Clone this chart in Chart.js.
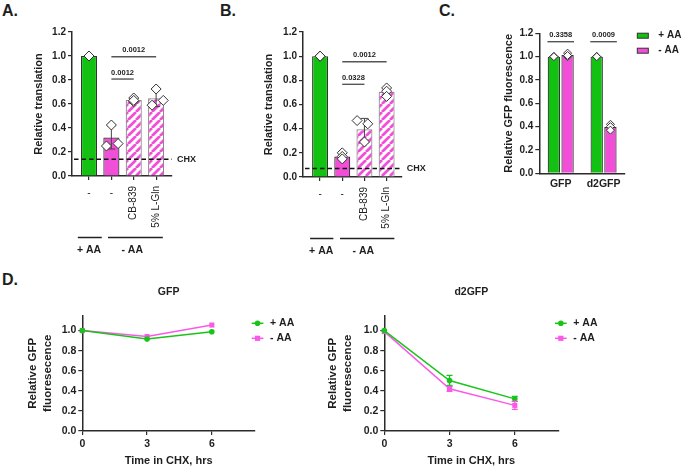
<!DOCTYPE html>
<html><head><meta charset="utf-8">
<script src="https://cdn.jsdelivr.net/npm/chart.js@4/dist/chart.umd.min.js"></script>
<style>
html,body{margin:0;padding:0;background:#fff;}
body{width:682px;height:469px;position:relative;overflow:hidden;font-family:"Liberation Sans",Arial,sans-serif;}
canvas{position:absolute;}
.pl{position:absolute;font-weight:bold;font-size:16px;line-height:16px;color:#1e1e1e;}
</style></head><body>
<div class="pl" style="left:2px;top:3px">A.</div>
<div class="pl" style="left:220px;top:3px">B.</div>
<div class="pl" style="left:439px;top:3px">C.</div>
<div class="pl" style="left:2px;top:272px">D.</div>
<canvas id="cA" width="230" height="270" style="left:0;top:0"></canvas>
<canvas id="cB" width="230" height="270" style="left:230px;top:0"></canvas>
<canvas id="cC" width="222" height="210" style="left:460px;top:0"></canvas>
<canvas id="cD1" width="300" height="184" style="left:0;top:285px"></canvas>
<canvas id="cD2" width="382" height="184" style="left:300px;top:285px"></canvas>
<script>
// ---------------- data ----------------
// Panel A
const catA = ['-', '-', 'CB-839', '5% L-Gln'];
const meanA = [1.0, 0.32, 0.633, 0.648];
const sdA = [0, 0.095, 0.02, 0.07];
const repA = [[1.0, 1.0, 1.0], [0.425, 0.25, 0.27], [0.65, 0.62, 0.63], [0.725, 0.59, 0.63]];
const chxA = 0.14;
const sigPairsA = [[1, 3], [1, 2]];
const sigPA = ['0.0012', '0.0012'];
const sigYA = [0.994, 0.808];
// Panel B
const catB = ['-', '-', 'CB-839', '5% L-Gln'];
const meanB = [1.0, 0.17, 0.395, 0.705];
const sdB = [0, 0.025, 0.09, 0.035];
const repB = [[1.0, 1.0, 1.0], [0.20, 0.17, 0.15], [0.467, 0.44, 0.29], [0.737, 0.71, 0.667]];
const chxB = 0.07;
const sigPairsB = [[1, 3], [1, 2]];
const sigPB = ['0.0012', '0.0328'];
const sigYB = [0.954, 0.767];
// shared A/B
const groupNames = ['+ AA', '- AA'];
const yTicksBar = [0, 0.2, 0.4, 0.6, 0.8, 1.0, 1.2];
// Panel C
const catC = ['GFP', 'd2GFP'];
const seriesC = ['+ AA', '- AA'];
const plusC = [1.0, 1.0];
const minusC = [1.013, 0.397];
const repPlusC = [[1.0, 1.0, 1.0], [1.0, 1.0, 1.0]];
const repMinusC = [[1.0, 1.03, 1.01], [0.42, 0.40, 0.37]];
const sigPC = ['0.3358', '0.0009'];
const sigYC = [1.128, 1.128];
// Panel D
const seriesD = ['+ AA', '- AA'];
const timeD = [0, 3, 6];
const gfpPlus = [1.0, 0.915, 0.988];
const gfpPlusErr = [0, 0, 0];
const gfpMinus = [1.0, 0.94, 1.055];
const gfpMinusErr = [0, 0, 0];
const d2Plus = [1.0, 0.503, 0.32];
const d2PlusErr = [0, 0.05, 0.025];
const d2Minus = [0.99, 0.42, 0.255];
const d2MinusErr = [0, 0.025, 0.04];
const xTicksD = [0, 3, 6];
const yTicksD = [0, 0.2, 0.4, 0.6, 0.8, 1.0];

// ---------------- style ----------------
const GREEN = '#12c112';
const MAGENTA = '#f24fd9';
const GREEN_L = '#19c419';
const PINK_L = '#fb58ea';
const AX = '#2b2b2b';
const TXT = '#1e1e1e';
const FONT = '"Liberation Sans", Arial, sans-serif';
Chart.defaults.font.family = FONT;
Chart.defaults.color = TXT;

function hatch(ctx) {
  const c = document.createElement('canvas'); c.width = 8; c.height = 8;
  const g = c.getContext('2d');
  g.fillStyle = '#fff'; g.fillRect(0, 0, 8, 8);
  g.strokeStyle = MAGENTA; g.lineWidth = 2.8;
  g.beginPath();
  [-8, 0, 8].forEach(k => { g.moveTo(k, 8); g.lineTo(k + 8, 0); });
  g.stroke();
  return ctx.createPattern(c, 'repeat');
}

function axisCommon() {
  return {
    grid: { drawOnChartArea: false, drawTicks: true, tickLength: 4, color: AX, lineWidth: 1.2, offset: false },
    border: { color: AX, width: 1.5 }
  };
}

// ---------------- A / B ----------------
function barPanel(o) {
  const cv = document.getElementById(o.id);
  const ctx = cv.getContext('2d');
  const W = cv.width, H = cv.height, g = o.g;
  const pat = hatch(ctx);
  const fills = o.means.map((_, i) => i === 0 ? GREEN : i === 1 ? MAGENTA : pat);
  const borders = o.means.map((_, i) => i < 2 ? '#333' : '#8a8a8a');
  const pts = [];
  o.reps.forEach((r, i) => r.forEach((v, j) => pts.push({ x: i + o.jitter[i][j], y: v })));
  const extras = {
    id: 'extras' + o.id,
    afterDatasetDraw(chart, args) {
      if (args.index !== 0) return;
      const xs = chart.scales.x, ys = chart.scales.y, c = chart.ctx;
      c.save(); c.strokeStyle = '#444'; c.lineWidth = 1;
      o.means.forEach((m, i) => {
        const e = o.sds[i]; if (!e) return;
        const x = xs.getPixelForValue(i), y1 = ys.getPixelForValue(m - e), y2 = ys.getPixelForValue(m + e);
        c.beginPath(); c.moveTo(x, y1); c.lineTo(x, y2);
        c.moveTo(x - 4, y1); c.lineTo(x + 4, y1); c.moveTo(x - 4, y2); c.lineTo(x + 4, y2); c.stroke();
      });
      c.restore();
    },
    afterDraw(chart) {
      const xs = chart.scales.x, ys = chart.scales.y, c = chart.ctx, ca = chart.chartArea;
      c.save();
      const yc = ys.getPixelForValue(o.chx);
      c.strokeStyle = '#111'; c.lineWidth = 1.6; c.setLineDash([4.5, 3]);
      c.beginPath(); c.moveTo(ca.left + 2, yc); c.lineTo(ca.right, yc); c.stroke(); c.setLineDash([]);
      c.fillStyle = TXT; c.font = 'bold 9px ' + FONT; c.textAlign = 'left'; c.textBaseline = 'middle';
      c.fillText('CHX', ca.right + 5, yc);
      c.strokeStyle = '#555'; c.lineWidth = 1.4; c.font = 'bold 7.5px ' + FONT; c.textAlign = 'center'; c.textBaseline = 'alphabetic';
      o.sigPairs.forEach((p, k) => {
        const x1 = xs.getPixelForValue(p[0]), x2 = xs.getPixelForValue(p[1]), y = ys.getPixelForValue(o.sigY[k]);
        c.beginPath(); c.moveTo(x1, y); c.lineTo(x2, y); c.stroke();
        c.fillText(o.sigP[k], (x1 + x2) / 2, y - 4.5);
      });
      c.font = '10px ' + FONT;
      o.cats.forEach((lab, i) => {
        const x = xs.getPixelForValue(i);
        if (lab === '-') { c.textAlign = 'center'; c.textBaseline = 'middle'; c.fillText(lab, x, ca.bottom + 17); }
        else { c.save(); c.translate(x, ca.bottom + 10); c.rotate(-Math.PI / 2); c.textAlign = 'right'; c.textBaseline = 'middle'; c.fillText(lab, 0, 0); c.restore(); }
      });
      c.strokeStyle = '#222'; c.lineWidth = 1.5; c.font = 'bold 10.5px ' + FONT; c.textAlign = 'center'; c.textBaseline = 'middle';
      groupNames.forEach((name, k) => {
        const sp = o.groupSpan[k];
        const x1 = xs.getPixelForValue(sp[0]), x2 = xs.getPixelForValue(sp[1]);
        const y = ca.bottom + 61.5;
        c.beginPath(); c.moveTo(x1, y); c.lineTo(x2, y); c.stroke();
        c.fillText(name, xs.getPixelForValue(o.groupLabelAt[k]), y + 12.5);
      });
      c.restore();
    }
  };
  const ax = axisCommon(), ay = axisCommon();
  new Chart(ctx, {
    type: 'bar',
    data: { datasets: [
      { type: 'bar', data: o.means.map((v, i) => ({ x: i, y: v })), backgroundColor: fills, borderColor: borders, borderWidth: 1.2, categoryPercentage: 1, barPercentage: 0.72, order: 2 },
      { type: 'scatter', data: pts, pointStyle: 'rectRot', pointRadius: 5, backgroundColor: '#fff', borderColor: '#333', borderWidth: 1, order: 1 }
    ] },
    options: {
      responsive: false, animation: false, events: [],
      layout: { padding: { left: g.pl, top: g.top, right: W - g.right, bottom: 0 } },
      plugins: { legend: { display: false }, tooltip: { enabled: false } },
      scales: {
        x: Object.assign(ax, { type: 'linear', offset: false, min: g.xmin, max: g.xmax,
          afterBuildTicks: s => { s.ticks = o.cats.map((_, i) => ({ value: i })); },
          ticks: { display: false },
          afterFit: s => { s.height = H - g.bottom; } }),
        y: Object.assign(ay, { type: 'linear', min: 0, max: 1.2,
          afterBuildTicks: s => { s.ticks = yTicksBar.map(v => ({ value: v })); },
          ticks: { callback: v => v.toFixed(1), font: { size: 10, weight: 'bold' }, color: TXT, padding: 2 },
          title: { display: true, text: 'Relative translation', font: { size: 11, weight: 'bold' }, color: TXT, padding: 0 },
          afterFit: s => { s.width = g.left - g.pl; } })
      }
    },
    plugins: [extras]
  });
}

barPanel({ id: 'cA', cats: catA, means: meanA, sds: sdA, reps: repA, chx: chxA, sigPairs: sigPairsA, sigP: sigPA, sigY: sigYA,
  jitter: [[0, 0, 0], [0, -0.22, 0.3], [0, 0, 0], [0, -0.18, 0.32]],
  groupSpan: [[-0.5, 0.57], [0.85, 3.3]], groupLabelAt: [0, 1.93],
  g: { pl: 32.4, left: 72, right: 172, top: 32, bottom: 176, xmin: -0.76, xmax: 3.71 } });
barPanel({ id: 'cB', cats: catB, means: meanB, sds: sdB, reps: repB, chx: chxB, sigPairs: sigPairsB, sigP: sigPB, sigY: sigYB,
  jitter: [[0, 0, 0], [0, 0, 0], [-0.33, 0.15, 0], [0, 0, 0]],
  groupSpan: [[-0.45, 0.6], [0.9, 3.35]], groupLabelAt: [0.05, 1.95],
  g: { pl: 32.4, left: 73, right: 171.7, top: 32, bottom: 177, xmin: -0.77, xmax: 3.68 } });

// ---------------- C ----------------
(function () {
  const cv = document.getElementById('cC'); const ctx = cv.getContext('2d');
  const W = cv.width, H = cv.height;
  const g = { pl: 42.4, left: 79.3, right: 165, top: 33.3, bottom: 173.3 };
  const catPct = 0.64, barPct = 0.9, off = catPct / 4;
  const pts = [];
  repPlusC.forEach((r, i) => r.forEach(v => pts.push({ x: i - off, y: v })));
  repMinusC.forEach((r, i) => r.forEach(v => pts.push({ x: i + off, y: v })));
  const extras = {
    id: 'extrasC',
    afterDraw(chart) {
      const xs = chart.scales.x, ys = chart.scales.y, c = chart.ctx;
      c.save();
      c.strokeStyle = '#555'; c.lineWidth = 1.4; c.font = 'bold 7.5px ' + FONT; c.fillStyle = TXT; c.textAlign = 'center'; c.textBaseline = 'alphabetic';
      sigPC.forEach((p, i) => {
        const x1 = xs.getPixelForValue(i - 0.31), x2 = xs.getPixelForValue(i + 0.31), y = ys.getPixelForValue(sigYC[i]);
        c.beginPath(); c.moveTo(x1, y); c.lineTo(x2, y); c.stroke();
        c.fillText(p, (x1 + x2) / 2, y - 4.5);
      });
      const cols = [GREEN, MAGENTA];
      c.font = 'bold 10px ' + FONT; c.textAlign = 'left'; c.textBaseline = 'middle';
      seriesC.forEach((s, k) => {
        const y = 35.7 + k * 15;
        c.fillStyle = cols[k]; c.fillRect(177.3, y - 2.5, 11, 5);
        c.strokeStyle = '#333'; c.lineWidth = 1; c.strokeRect(177.3, y - 2.5, 11, 5);
        c.fillStyle = TXT; c.fillText(s, 198.3, y);
      });
      c.restore();
    }
  };
  const ax = axisCommon(), ay = axisCommon();
  ax.grid.drawTicks = false;
  new Chart(ctx, {
    type: 'bar',
    data: { datasets: [
      { type: 'bar', label: seriesC[0], data: plusC.map((v, i) => ({ x: i, y: v })), backgroundColor: GREEN, borderColor: '#333', borderWidth: 1.2, categoryPercentage: catPct, barPercentage: barPct, order: 2 },
      { type: 'bar', label: seriesC[1], data: minusC.map((v, i) => ({ x: i, y: v })), backgroundColor: MAGENTA, borderColor: '#333', borderWidth: 1.2, categoryPercentage: catPct, barPercentage: barPct, order: 3 },
      { type: 'scatter', data: pts, pointStyle: 'rectRot', pointRadius: 4, backgroundColor: '#fff', borderColor: '#333', borderWidth: 1, order: 1 }
    ] },
    options: {
      responsive: false, animation: false, events: [],
      layout: { padding: { left: g.pl, top: g.top, right: W - g.right, bottom: 0 } },
      plugins: { legend: { display: false }, tooltip: { enabled: false } },
      scales: {
        x: Object.assign(ax, { type: 'linear', offset: false, min: -0.5, max: 1.5,
          afterBuildTicks: s => { s.ticks = catC.map((_, i) => ({ value: i })); },
          ticks: { callback: v => catC[v], font: { size: 10.5, weight: 'bold' }, color: TXT, padding: 5, maxRotation: 0 },
          afterFit: s => { s.height = H - g.bottom; } }),
        y: Object.assign(ay, { type: 'linear', min: 0, max: 1.2,
          afterBuildTicks: s => { s.ticks = yTicksBar.map(v => ({ value: v })); },
          ticks: { callback: v => v.toFixed(1), font: { size: 10, weight: 'bold' }, color: TXT, padding: 2 },
          title: { display: true, text: 'Relative GFP fluorescence', font: { size: 11, weight: 'bold' }, color: TXT, padding: 0 },
          afterFit: s => { s.width = g.left - g.pl; } })
      }
    },
    plugins: [extras]
  });
})();

// ---------------- D ----------------
function linePanel(o) {
  const cv = document.getElementById(o.id); const ctx = cv.getContext('2d');
  const W = cv.width, H = cv.height, g = o.g;
  const series = [
    { vals: o.plus, err: o.plusErr, col: GREEN_L, style: 'circle', r: 2.8 },
    { vals: o.minus, err: o.minusErr, col: PINK_L, style: 'rect', r: 3.6 }
  ];
  const extras = {
    id: 'extras' + o.id,
    afterDatasetsDraw(chart) {
      const xs = chart.scales.x, ys = chart.scales.y, c = chart.ctx, ca = chart.chartArea;
      c.save();
      series.forEach(s => {
        c.strokeStyle = s.col; c.lineWidth = 1.3;
        timeD.forEach((t, i) => {
          const e = s.err[i]; if (!e) return;
          const x = xs.getPixelForValue(t), y1 = ys.getPixelForValue(s.vals[i] - e), y2 = ys.getPixelForValue(s.vals[i] + e);
          c.beginPath(); c.moveTo(x, y1); c.lineTo(x, y2);
          c.moveTo(x - 3, y1); c.lineTo(x + 3, y1); c.moveTo(x - 3, y2); c.lineTo(x + 3, y2); c.stroke();
        });
      });
      c.font = 'bold 10.5px ' + FONT; c.textAlign = 'left'; c.textBaseline = 'middle';
      seriesD.forEach((name, k) => {
        const s = series[k], y = 38.3 + k * 15, x0 = ca.right - 3.3, x1 = ca.right + 8.4;
        c.strokeStyle = s.col; c.lineWidth = 1.5;
        c.beginPath(); c.moveTo(x0, y); c.lineTo(x1, y); c.stroke();
        c.fillStyle = s.col;
        const xm = (x0 + x1) / 2;
        if (s.style === 'circle') { c.beginPath(); c.arc(xm, y, 2.8, 0, Math.PI * 2); c.fill(); }
        else { c.fillRect(xm - 2.6, y - 2.6, 5.2, 5.2); }
        c.fillStyle = TXT; c.fillText(name, ca.right + 15, y);
      });
      c.restore();
    }
  };
  const ax = axisCommon(), ay = axisCommon();
  new Chart(ctx, {
    type: 'line',
    data: { datasets: series.map((s, k) => ({
      label: seriesD[k], data: timeD.map((t, i) => ({ x: t, y: s.vals[i] })),
      borderColor: s.col, backgroundColor: s.col, borderWidth: 1.5, pointStyle: s.style, pointRadius: s.r,
      pointBorderWidth: 0, tension: 0, fill: false, clip: false
    })) },
    options: {
      responsive: false, animation: false, events: [],
      layout: { padding: { left: g.pl, top: 0, right: W - g.right, bottom: 1 } },
      plugins: {
        legend: { display: false }, tooltip: { enabled: false },
        title: { display: true, text: o.title, fullSize: false, font: { size: 10.5, weight: 'bold' }, color: TXT, padding: { top: 1, bottom: g.top - 13.6 } }
      },
      scales: {
        x: Object.assign(ax, { type: 'linear', min: 0, max: 8,
          afterBuildTicks: s => { s.ticks = xTicksD.map(v => ({ value: v })); },
          ticks: { font: { size: 10.5, weight: 'bold' }, color: TXT, padding: 3, maxRotation: 0 },
          title: { display: true, text: 'Time in CHX, hrs', font: { size: 11, weight: 'bold' }, color: TXT, padding: 0 },
          afterFit: s => { s.height = H - 1 - g.bottom; } }),
        y: Object.assign(ay, { type: 'linear', min: 0, max: 1.15,
          afterBuildTicks: s => { s.ticks = yTicksD.map(v => ({ value: v })); },
          ticks: { callback: v => v.toFixed(1), font: { size: 10.5, weight: 'bold' }, color: TXT, padding: 2 },
          title: { display: true, text: ['Relative GFP', 'fluoresecence'], font: { size: 11.5, weight: 'bold', lineHeight: 1.3 }, color: TXT, padding: 0 },
          afterFit: s => { s.width = g.left - g.pl; } })
      }
    },
    plugins: [extras]
  });
}
linePanel({ id: 'cD1', title: 'GFP', plus: gfpPlus, plusErr: gfpPlusErr, minus: gfpMinus, minusErr: gfpMinusErr,
  g: { pl: 25.5, left: 82.3, right: 255, top: 30.5, bottom: 146 } });
linePanel({ id: 'cD2', title: 'd2GFP', plus: d2Plus, plusErr: d2PlusErr, minus: d2Minus, minusErr: d2MinusErr,
  g: { pl: 25.5, left: 84.3, right: 258.3, top: 30.5, bottom: 146 } });
</script>
</body></html>
